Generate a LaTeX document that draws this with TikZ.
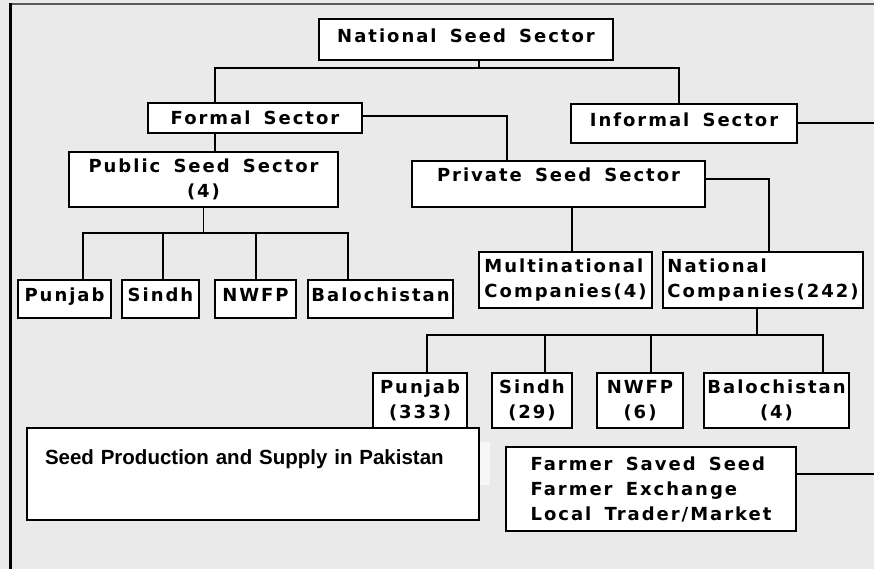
\documentclass[tikz,border=0pt]{standalone}
\usepackage{fontspec}
\newfontfamily\comicfont[LetterSpace=11,WordSpace=1.6]{DejaVu Sans}
\newfontfamily\titlefont{Liberation Sans}
\definecolor{bgGray}{RGB}{234,234,234}
\definecolor{frameGray}{RGB}{90,90,90}
\tikzset{
  seedbox/.style={draw=black, fill=white, inner sep=0pt, align=center,
    font=\comicfont\bfseries\fontsize{18}{25}\selectfont},
  thickbox/.style={seedbox, line width=2.6pt},
  thinbox/.style={seedbox, line width=1.6pt},
  thickline/.style={draw=black, line width=2.8pt, line cap=rect},
  thinline/.style={draw=black, line width=1.2pt, line cap=rect}
}
\begin{document}
\begin{tikzpicture}[x=1pt, y=-1pt]
    % 画布、背景与外框
    \useasboundingbox (0,0) rectangle (874,569);
    \fill[bgGray] (0,0) rectangle (874,569);
    \draw[frameGray, line width=1.5pt] (10,4) -- (880,4);
    \draw[black, line width=3pt] (10,3.25) -- (10,575);

    % --- 第一、二层：总部门与正式/非正式 ---
    \node[thickbox, minimum width=294pt, minimum height=41pt, text depth=8pt] (nat) at (466,39.5) {National Seed Sector};
    \node[thickbox, minimum width=214pt, minimum height=30pt] (formal) at (255,118) {Formal Sector};
    \node[thickbox, minimum width=226pt, minimum height=39pt, text depth=7pt] (informal) at (684,123.5) {Informal Sector};
    \node[thinbox, minimum width=269pt, minimum height=55pt] (public) at (203.5,179.5) {Public Seed Sector\\(4)};
    \node[thickbox, minimum width=293pt, minimum height=46pt, text depth=19pt] (private) at (558.5,184) {Private Seed Sector};

    % --- 公共部门下属各省 ---
    \foreach \name/\cx/\w/\sty/\txt in {pp/64.5/93/thickbox/Punjab, ps/160.5/77/thickbox/Sindh,
        pn/255.5/81/thinbox/NWFP, pb/380.5/145/thickbox/Balochistan}{
      \node[\sty, minimum width=\w pt, minimum height=38pt, text depth=8pt] (\name) at (\cx,299) {\txt};
    }

    % --- 私营部门：跨国与国内公司 ---
    \node[thinbox, align=left, minimum width=173pt, minimum height=56pt] (multi) at (565.5,280) {Multinational\\Companies(4)};
    \node[thickbox, align=left, minimum width=200pt, minimum height=56pt] (natcomp) at (763,280) {National\\Companies(242)};

    % --- 国内公司下属各省 ---
    \foreach \name/\cx/\w/\sty/\txt in {np/420/94/thickbox/{Punjab\\(333)}, ns/532/80/thickbox/{Sindh\\(29)},
        nn/640/86/thinbox/{NWFP\\(6)}, nb/776.5/145/thinbox/{Balochistan\\(4)}}{
      \node[\sty, minimum width=\w pt, minimum height=55pt] (\name) at (\cx,400.5) {\txt};
    }

    % --- 标题框与非正式来源 ---
    \fill[white!60!bgGray] (470,442) rectangle (490,485);
    \node[draw=black, fill=white, line width=1.3pt, minimum width=452pt, minimum height=92pt,
      inner xsep=18pt, text width=416pt, align=left, text depth=34pt,
      font=\titlefont\bfseries\fontsize{20.5}{24}\selectfont] (title) at (253,474) {Seed Production and Supply in Pakistan};
    \node[thickbox, align=left, minimum width=290pt, minimum height=84pt] (farmer) at (651,489)
      {Farmer Saved Seed\\Farmer Exchange\\Local Trader/Market};

    % --- 连线 ---
    \coordinate (natM) at (479,68);
    \coordinate (natL) at (215,68);
    \coordinate (natR) at (679,68);
    \draw[thinline] (natM |- nat.south) -- (natM);
    \draw[thinline] (natL) -- (natR);
    \draw[thickline] (natL) -- (natL |- formal.north);
    \draw[thinline] (natR) -- (natR |- informal.north);
    \draw[thickline] (natL |- formal.south) -- (natL |- public.north);
    \coordinate (fpC) at (507,116);
    \draw[thickline] (formal.east |- fpC) -- (fpC) -- (fpC |- private.north);
    \coordinate (infR) at (880,123);
    \draw[thickline] (informal.east |- infR) -- (infR);

    % 公共部门 -> 各省
    \coordinate (pubL) at (83,233);
    \coordinate (pubS) at (163,233);
    \coordinate (pubN) at (256,233);
    \coordinate (pubR) at (348,233);
    \draw[thinline] (public.south) -- (public.south |- pubL);
    \draw[thickline] (pubL) -- (pubR);
    \draw[thinline] (pubL) -- (pubL |- pp.north);
    \draw[thickline] (pubS) -- (pubS |- ps.north);
    \draw[thinline] (pubN) -- (pubN |- pn.north);
    \draw[thickline] (pubR) -- (pubR |- pb.north);

    % 私营部门 -> 公司
    \coordinate (privM) at (572,230);
    \draw[thickline] (privM |- private.south) -- (privM |- multi.north);
    \coordinate (privC) at (769,179);
    \draw[thinline] (private.east |- privC) -- (privC);
    \draw[thickline] (privC) -- (privC |- natcomp.north);

    % 国内公司 -> 各省
    \coordinate (ncM) at (757,335);
    \coordinate (ncL) at (427,335);
    \coordinate (ncS) at (545,335);
    \coordinate (ncN) at (651,335);
    \coordinate (ncR) at (823,335);
    \draw[thickline] (ncM |- natcomp.south) -- (ncM);
    \draw[thickline] (ncL) -- (ncR);
    \draw[thinline] (ncL) -- (ncL |- np.north);
    \draw[thickline] (ncS) -- (ncS |- ns.north);
    \draw[thinline] (ncN) -- (ncN |- nn.north);
    \draw[thinline] (ncR) -- (ncR |- nb.north);

    % 农户来源 -> 非正式部门
    \coordinate (farmR) at (880,474);
    \draw[thickline] (farmer.east |- farmR) -- (farmR);
\end{tikzpicture}
\end{document}
